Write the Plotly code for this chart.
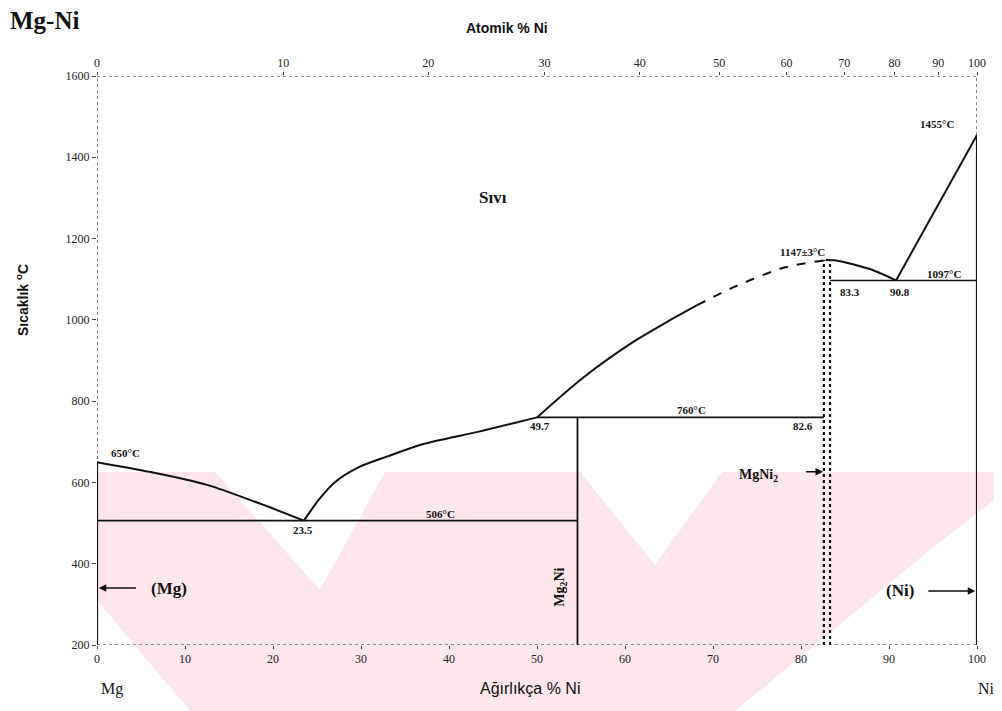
import plotly.graph_objects as go

# ---------------- data (wt% Ni, temperature °C) ----------------
mg_liq_x = [0, 6, 12.5, 18.5, 23.5]
mg_liq_y = [650, 626, 594, 548, 506]

eut_liq_x = [23.5, 25.3, 27, 29.7, 33, 37, 43.4, 50]
eut_liq_y = [506, 560, 600, 637, 664, 694, 725, 760]

per_liq_x = [50, 55.2, 60.9, 64.8, 68.2]
per_liq_y = [760, 857, 945, 995, 1036]

per_liq_dash_x = [68.2, 72.3, 78, 82.8]
per_liq_dash_y = [1036, 1080, 1128, 1147]

mgni2_liq_x = [82.8, 84, 86, 88.2, 90.8]
mgni2_liq_y = [1147, 1146, 1136, 1122, 1097]

ni_liq_x = [90.8, 100]
ni_liq_y = [1097, 1455]

eutectic1_x = [0, 54.6]; eutectic1_y = [506, 506]
peritectic_x = [50, 82.6]; peritectic_y = [760, 760]
eutectic2_x = [83.3, 100]; eutectic2_y = [1097, 1097]
mg2ni_x = [54.6, 54.6]; mg2ni_y = [200, 760]
mgni2_a_x = [82.6, 82.6]; mgni2_a_y = [200, 1147]
mgni2_b_x = [83.3, 83.3]; mgni2_b_y = [200, 1147]

at_ticks = [0, 10, 20, 30, 40, 50, 60, 70, 80, 90, 100]
wt_ticks = [0, 10, 20, 30, 40, 50, 60, 70, 80, 90, 100]
y_ticks = [200, 400, 600, 800, 1000, 1200, 1400, 1600]
M_NI, M_MG = 58.69, 24.305

def at_to_wt(a):
    return 100.0 * a * M_NI / (a * M_NI + (100 - a) * M_MG)

top_pos = [at_to_wt(a) for a in at_ticks]

# ---------------- figure ----------------
fig = go.Figure()
BLK = "#111111"

def line(x, y, dash="solid", w=2.0, xa="x", shape="linear"):
    fig.add_trace(go.Scatter(x=x, y=y, mode="lines", xaxis=xa,
                             line=dict(color=BLK, width=w, dash=dash, shape=shape,
                                       smoothing=0.8 if shape == "spline" else None),
                             hoverinfo="skip", showlegend=False))

line(mg_liq_x, mg_liq_y, shape="spline")
line(eut_liq_x, eut_liq_y, shape="spline")
line(per_liq_x, per_liq_y, shape="spline")
line(per_liq_dash_x, per_liq_dash_y, dash="dash", shape="spline")
line(mgni2_liq_x, mgni2_liq_y, shape="spline")
line(ni_liq_x, ni_liq_y)
line(eutectic1_x, eutectic1_y, w=1.6)
line(peritectic_x, peritectic_y, w=1.6)
line(eutectic2_x, eutectic2_y, w=1.6)
line(mg2ni_x, mg2ni_y, w=1.8)
line(mgni2_a_x, mgni2_a_y, dash="dot", w=2.2)
line(mgni2_b_x, mgni2_b_y, dash="dot", w=2.2)
# invisible trace to anchor top axis
fig.add_trace(go.Scatter(x=[0, 100], y=[1600, 1600], xaxis="x2", mode="lines",
                         line=dict(width=0), opacity=0, hoverinfo="skip",
                         showlegend=False))

# ---------------- frame shapes ----------------
shapes = []
def seg(x0, y0, x1, y1, w=1.2, dash="dot", color="#333333"):
    shapes.append(dict(type="line", xref="x", yref="y", x0=x0, y0=y0, x1=x1, y1=y1,
                       line=dict(color=color, width=w, dash=dash), layer="above"))
seg(0, 1600, 100, 1600)
seg(0, 200, 100, 200)
seg(0, 200, 0, 1600)
seg(100, 200, 100, 1600)
seg(0, 200, 0, 650, w=2.2, dash="solid", color=BLK)
seg(100, 200, 100, 1455, w=2.2, dash="solid", color=BLK)

# watermark (pale pink), page pixel -> paper conversion
L, T, PW, PH = 97, 76, 880, 569
def P(px, py):
    return (px - L) / PW, (T + PH - py) / PH
def poly(pts, color):
    d = "M " + " L ".join(f"{P(a,b)[0]:.4f},{P(a,b)[1]:.4f}" for a, b in pts) + " Z"
    shapes.append(dict(type="path", xref="paper", yref="paper", path=d,
                       fillcolor=color, line=dict(width=0), layer="below"))
PINK = "rgb(253,230,235)"
WHITE = "white"
poly([(97, 472), (1002, 472), (1002, 711), (97, 711)], PINK)
poly([(215, 472), (385, 472), (320, 590)], WHITE)
poly([(580, 472), (722, 472), (655, 565)], WHITE)
poly([(97, 600), (190, 711), (97, 711)], WHITE)
poly([(1030, 472), (1002, 472), (1002, 711), (735, 711), (930, 550)], WHITE)

# ---------------- annotations ----------------
ann = []
SERIF = "Liberation Serif"
SANS = "Liberation Sans"
def txt(x, y, s, size=11, font=SERIF, color=BLK, **kw):
    ann.append(dict(x=x, y=y, text=s, showarrow=False, xref="x", yref="y",
                    font=dict(family=font, size=size, color=color), **kw))

txt(45, 1300, "<b>Sıvı</b>", size=17)
txt(3.2, 672, "<b>650°C</b>", size=11)
txt(23.4, 484, "<b>23.5</b>", size=11)
txt(39, 522, "<b>506°C</b>", size=11)
txt(50.3, 740, "<b>49.7</b>", size=11)
txt(67.5, 778, "<b>760°C</b>", size=11)
txt(80.2, 738, "<b>82.6</b>", size=11)
txt(80.2, 1166, "<b>1147±3°C</b>", size=11)
txt(85.6, 1068, "<b>83.3</b>", size=11)
txt(91.2, 1068, "<b>90.8</b>", size=11)
txt(96.2, 1112, "<b>1097°C</b>", size=11)
txt(95.5, 1482, "<b>1455°C</b>", size=11)
txt(75.2, 617, "<b>MgNi<sub>2</sub></b>", size=14)
txt(8.2, 338, "<b>(Mg)</b>", size=17)
txt(91.2, 333, "<b>(Ni)</b>", size=17)
txt(52.7, 343, "<b>Mg<sub>2</sub>Ni</b>", size=14, textangle=-90)

def arrow(x_tail, x_head, y):
    ann.append(dict(x=x_head, y=y, ax=x_tail, ay=y, xref="x", yref="y",
                    axref="x", ayref="y", text="", showarrow=True,
                    arrowhead=2, arrowsize=1, arrowwidth=1.5, arrowcolor=BLK))
arrow(4.6, 0.2, 340)
arrow(94.3, 99.8, 333)
arrow(80.4, 82.5, 626)

def ptxt(px, py, s, size, font, xanchor="center", **kw):
    x, y = P(px, py)
    ann.append(dict(x=x, y=y, xref="paper", yref="paper", text=s, showarrow=False,
                    xanchor=xanchor, yanchor="middle",
                    font=dict(family=font, size=size, color=BLK), **kw))

ptxt(8, 20, "<b>Mg-Ni</b>", 25, SERIF, xanchor="left")
ptxt(507, 28, "<b>Atomik % Ni</b>", 14, SANS)
ptxt(530, 689, "Ağırlıkça % Ni", 16, SANS)
ptxt(112, 689, "Mg", 16, SERIF)
ptxt(986, 689, "Ni", 16, SERIF)
ptxt(22, 300, "<b>Sıcaklık <sup>o</sup>C</b>", 14, SANS, textangle=-90)

# page has an 8px body margin: plot area at page x 97..977, y 76..645
fig.update_layout(
    width=994, height=703,
    margin=dict(l=89, r=25, t=68, b=66),
    paper_bgcolor="white", plot_bgcolor="rgba(0,0,0,0)",
    shapes=shapes, annotations=ann, showlegend=False,
    xaxis=dict(range=[0, 100], tickvals=wt_ticks, ticktext=[str(v) for v in wt_ticks],
               showgrid=False, zeroline=False, showline=False,
               ticks="outside", ticklen=3, tickcolor="#444",
               tickfont=dict(family=SERIF, size=12, color="#222")),
    xaxis2=dict(range=[0, 100], overlaying="x", side="top", anchor="y",
                tickvals=top_pos, ticktext=[str(v) for v in at_ticks],
                showgrid=False, zeroline=False, showline=False,
                ticks="outside", ticklen=3, tickcolor="#444",
                tickfont=dict(family=SERIF, size=12, color="#222")),
    yaxis=dict(range=[200, 1600], tickvals=y_ticks, showgrid=False, zeroline=False,
               showline=False, ticks="outside", ticklen=4, tickcolor="#444",
               tickfont=dict(family=SERIF, size=12, color="#222")),
)

fig.write_html("out.html")
